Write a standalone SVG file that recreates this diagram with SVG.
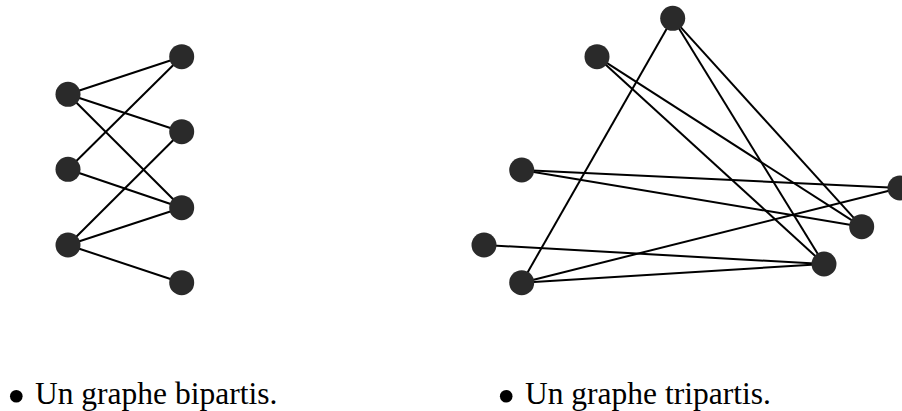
<svg xmlns="http://www.w3.org/2000/svg" width="902" height="411" viewBox="0 0 902 411">
<style>
.n{fill:#2a2a2a}
.e line{stroke:#000;stroke-width:2}
.t{font-family:"Liberation Serif","Times New Roman",serif;font-size:31.5px;fill:#000}
.b{fill:#000}
</style>
<rect width="902" height="411" fill="#fff"/>
<g id="edges" class="e">
<line x1="68" y1="94.3" x2="181.7" y2="56.7"/>
<line x1="68" y1="94.3" x2="181.7" y2="131.7"/>
<line x1="68" y1="94.3" x2="181.7" y2="207.7"/>
<line x1="68" y1="169.3" x2="181.7" y2="56.7"/>
<line x1="68" y1="169.3" x2="181.7" y2="207.7"/>
<line x1="68" y1="245" x2="181.7" y2="131.7"/>
<line x1="68" y1="245" x2="181.7" y2="207.7"/>
<line x1="68" y1="245" x2="181.7" y2="282.7"/>
<line x1="672.7" y1="18.3" x2="521.7" y2="282.7"/>
<line x1="672.7" y1="18.3" x2="861.7" y2="226.7"/>
<line x1="672.7" y1="18.3" x2="824" y2="264"/>
<line x1="597" y1="56.7" x2="861.7" y2="226.7"/>
<line x1="597" y1="56.7" x2="824" y2="264"/>
<line x1="521.7" y1="170" x2="900" y2="188"/>
<line x1="521.7" y1="170" x2="861.7" y2="226.7"/>
<line x1="484" y1="245" x2="824" y2="264"/>
<line x1="521.7" y1="282.7" x2="824" y2="264"/>
<line x1="521.7" y1="282.7" x2="900" y2="188"/>
</g>
<g id="a1"><circle class="n" cx="68" cy="94.3" r="12.5"/></g>
<g id="a2"><circle class="n" cx="68" cy="169.3" r="12.5"/></g>
<g id="a3"><circle class="n" cx="68" cy="245" r="12.5"/></g>
<g id="b1"><circle class="n" cx="181.7" cy="56.7" r="12.5"/></g>
<g id="b2"><circle class="n" cx="181.7" cy="131.7" r="12.5"/></g>
<g id="b3"><circle class="n" cx="181.7" cy="207.7" r="12.5"/></g>
<g id="b4"><circle class="n" cx="181.7" cy="282.7" r="12.5"/></g>
<g id="t1"><circle class="n" cx="672.7" cy="18.3" r="12.5"/></g>
<g id="t2"><circle class="n" cx="597" cy="56.7" r="12.5"/></g>
<g id="t3"><circle class="n" cx="521.7" cy="170" r="12.5"/></g>
<g id="t4"><circle class="n" cx="484" cy="245" r="12.5"/></g>
<g id="t5"><circle class="n" cx="521.7" cy="282.7" r="12.5"/></g>
<g id="t6"><circle class="n" cx="900" cy="188" r="12.5"/></g>
<g id="t7"><circle class="n" cx="861.7" cy="226.7" r="12.5"/></g>
<g id="t8"><circle class="n" cx="824" cy="264" r="12.5"/></g>
<g id="cap1"><circle class="b" cx="16.3" cy="396.2" r="6.3"/><text class="t" x="35" y="403.5">Un graphe bipartis.</text></g>
<g id="cap2"><circle class="b" cx="506.2" cy="396.2" r="6.3"/><text class="t" x="525" y="403.5">Un graphe tripartis.</text></g>
</svg>
